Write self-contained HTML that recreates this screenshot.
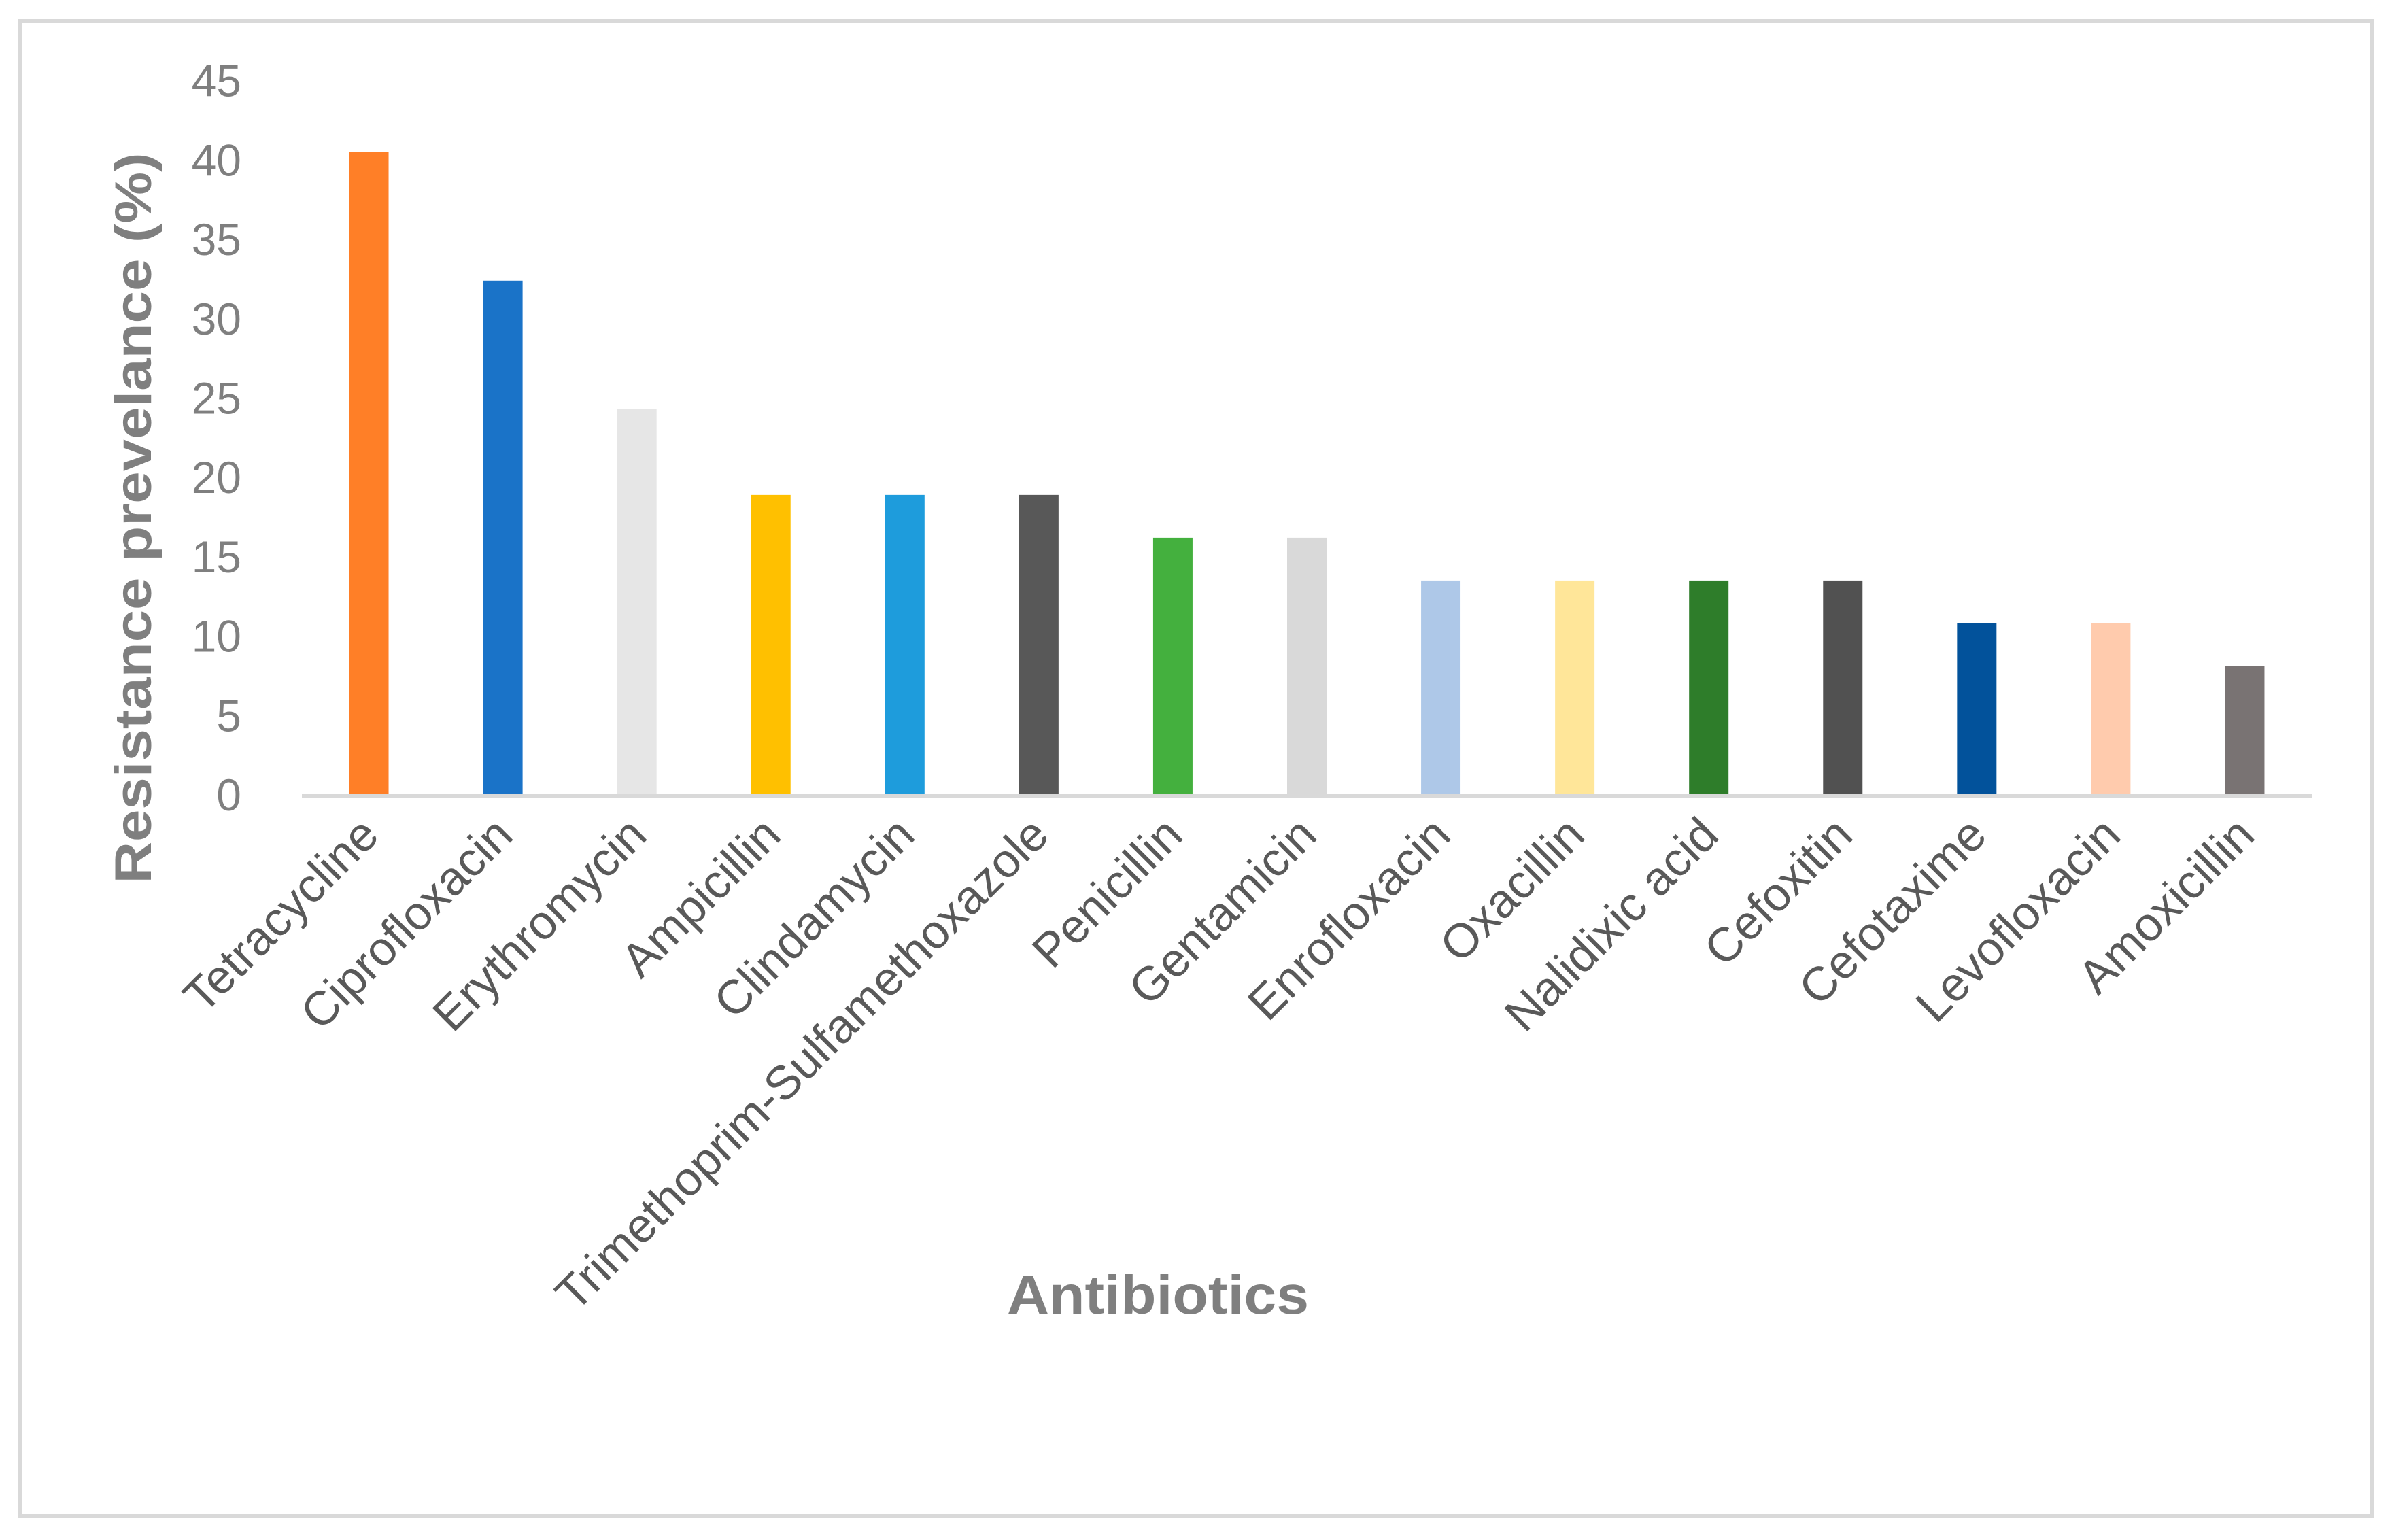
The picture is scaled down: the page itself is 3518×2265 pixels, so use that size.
<!DOCTYPE html>
<html><head><meta charset="utf-8"><style>
html,body{margin:0;padding:0;background:#fff;}
svg{display:block;font-family:"Liberation Sans",sans-serif;}
</style></head><body>
<svg id="chart" width="3518" height="2265" viewBox="0 0 3518 2265">
<rect x="0" y="0" width="3518" height="2265" fill="#fff"/>
<rect x="30" y="31" width="3458" height="2199" fill="none" stroke="#d9d9d9" stroke-width="6"/>
<g id="bars"></g>
<g id="yticks"></g>
<g id="xlabels"></g>
<line x1="444" y1="1171" x2="3400" y2="1171" stroke="#d9d9d9" stroke-width="6"/>
<text x="0" y="0" transform="translate(222,762) rotate(-90)" text-anchor="middle" font-weight="bold" font-size="76" fill="#7f7f7f" textLength="1075" lengthAdjust="spacingAndGlyphs">Resistance prevelance (%)</text>
<text x="1703" y="1932" text-anchor="middle" font-weight="bold" font-size="80" fill="#7f7f7f" textLength="444" lengthAdjust="spacingAndGlyphs">Antibiotics</text>
</svg>
<script>
const categories = ["Tetracycline","Ciprofloxacin","Erythromycin","Ampicillin","Clindamycin","Trimethoprim-Sulfamethoxazole","Penicillin","Gentamicin","Enrofloxacin","Oxacillin","Nalidixic acid","Cefoxitin","Cefotaxime","Levofloxacin","Amoxicillin"];
const values = [40.5,32.4,24.3,18.9,18.9,18.9,16.2,16.2,13.5,13.5,13.5,13.5,10.8,10.8,8.1];
const colors = ["#ff7f27","#1a73c8","#e6e6e6","#ffc000","#1e9cdc","#585858","#44b03e","#d9d9d9","#aec8e8","#ffe699","#2e7d2a","#515151","#02529b","#ffcbad","#797373"];
const yTicks = [0,5,10,15,20,25,30,35,40,45];

const NS = "http://www.w3.org/2000/svg";
const x0 = 444, x1 = 3400, y0 = 1169, pxPerUnit = 23.34, barW = 58;
const band = (x1 - x0) / categories.length;
function xCenter(i){ return x0 + band * (i + 0.5); }
function yPos(v){ return y0 - v * pxPerUnit; }

const barsG = document.getElementById("bars");
const tickG = document.getElementById("yticks");
const labG = document.getElementById("xlabels");

values.forEach(function(v, i){
  const r = document.createElementNS(NS, "rect");
  r.setAttribute("x", xCenter(i) - barW/2);
  r.setAttribute("y", yPos(v));
  r.setAttribute("width", barW);
  r.setAttribute("height", y0 - yPos(v));
  r.setAttribute("fill", colors[i]);
  
  
  barsG.appendChild(r);
});

yTicks.forEach(function(t){
  const tx = document.createElementNS(NS, "text");
  tx.setAttribute("x", 355);
  tx.setAttribute("y", yPos(t) + 23);
  tx.setAttribute("text-anchor", "end");
  tx.setAttribute("font-size", "66");
  tx.setAttribute("fill", "#7f7f7f");
  tx.textContent = String(t);
  
  
  tickG.appendChild(tx);
});

categories.forEach(function(c, i){
  const tx = document.createElementNS(NS, "text");
  const cx = xCenter(i) + 18, cy = 1232;
  tx.setAttribute("x", 0);
  tx.setAttribute("y", 0);
  tx.setAttribute("transform", "translate(" + cx + "," + cy + ") rotate(-45)");
  tx.setAttribute("text-anchor", "end");
  tx.setAttribute("font-size", "70");
  tx.setAttribute("fill", "#595959");
  tx.textContent = c;
  
  
  labG.appendChild(tx);
});
</script>
</body></html>
